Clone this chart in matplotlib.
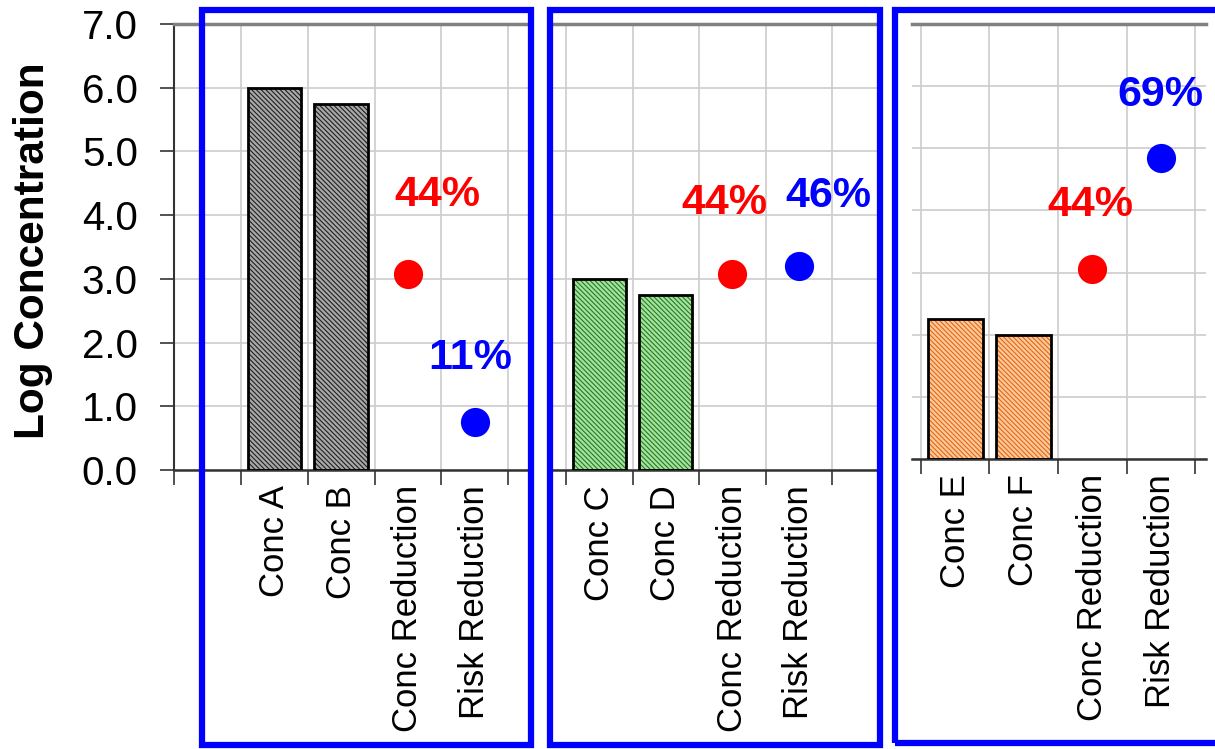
import matplotlib
matplotlib.use("Agg")
import matplotlib.pyplot as plt
from matplotlib.patches import Rectangle
from matplotlib.ticker import FormatStrFormatter

plt.rcParams["font.family"] = ["Liberation Sans", "DejaVu Sans"]
plt.rcParams["hatch.linewidth"] = 0.8

# data, one list per panel (bars first, then the two reduction points)
panel1_labels = ["", "Conc A", "Conc B", "Conc Reduction", "Risk Reduction"]
panel1_bars = [6.0, 5.75]
panel1_conc_red = 3.08
panel1_risk_red = 0.75
panel1_pcts = ["44%", "11%"]

panel2_labels = ["Conc C", "Conc D", "Conc Reduction", "Risk Reduction"]
panel2_bars = [3.0, 2.75]
panel2_conc_red = 3.08
panel2_risk_red = 3.2
panel2_pcts = ["44%", "46%"]

panel3_labels = ["Conc E", "Conc F", "Conc Reduction", "Risk Reduction"]
panel3_bars = [2.25, 2.0]
panel3_conc_red = 3.06
panel3_risk_red = 4.85
panel3_pcts = ["44%", "69%"]

y_ticks = [0, 1, 2, 3, 4, 5, 6, 7]

W, H = 1215, 749
fig = plt.figure(figsize=(W / 100, H / 100), dpi=100)


def px_axes(left, right, top, bottom):
  return fig.add_axes([left / W, 1 - bottom / H, (right - left) / W, (bottom - top) / H])


def draw_panel(ax, labels, bars, conc_red, risk_red, pcts, first, xlim, face, hatch_col,
               pct_pos, show_left):
  n = len(labels)
  xs = list(range(n))
  bar_x = xs[first:first + len(bars)]
  ax.bar(bar_x, bars, width=0.8, color=face, edgecolor=hatch_col, linewidth=0,
         hatch="\\\\\\\\\\\\\\", zorder=2)
  ax.bar(bar_x, bars, width=0.8, fill=False, edgecolor="black", linewidth=2.0, zorder=3)
  ax.plot([xs[first + 2]], [conc_red], "o", color="#ff0000", markersize=21, zorder=4,
          markeredgewidth=0)
  ax.plot([xs[first + 3]], [risk_red], "o", color="#0000ff", markersize=21, zorder=4,
          markeredgewidth=0)
  ax.text(*pct_pos[0], pcts[0], color="#ff0000", fontsize=31, fontweight="bold",
          ha="center", va="center")
  ax.text(*pct_pos[1], pcts[1], color="#0000ff", fontsize=31, fontweight="bold",
          ha="center", va="center")

  ax.set_xlim(*xlim)
  ax.set_ylim(0, 7)
  ax.set_xticks(xs)
  ax.set_xticklabels(labels, rotation=90, fontsize=25, va="top")
  ax.tick_params(axis="x", which="major", length=0, pad=11)
  ax.set_xticks([x - 0.5 for x in xs] + [xs[-1] + 0.5], minor=True)
  ax.tick_params(axis="x", which="minor", length=11, width=1.2, color="#333333",
                 direction="out")
  ax.set_yticks(y_ticks)
  ax.grid(True, which="major", axis="y", color="#cccccc", linewidth=1.2)
  ax.grid(True, which="minor", axis="x", color="#cccccc", linewidth=1.2)
  ax.set_axisbelow(True)

  ax.spines["top"].set_color("#808080")
  ax.spines["top"].set_linewidth(2.5)
  ax.spines["bottom"].set_color("#333333")
  ax.spines["bottom"].set_linewidth(1.8)
  ax.spines["right"].set_visible(False)
  if show_left:
    ax.spines["left"].set_color("#333333")
    ax.spines["left"].set_linewidth(1.5)
    ax.yaxis.set_major_formatter(FormatStrFormatter("%.1f"))
    ax.tick_params(axis="y", length=10, width=1.2, color="#333333", labelsize=29, pad=16)
  else:
    ax.spines["left"].set_visible(False)
    ax.tick_params(axis="y", length=0, labelleft=False)


ax1 = px_axes(174, 531, 24, 470)
draw_panel(ax1, panel1_labels, panel1_bars, panel1_conc_red, panel1_risk_red, panel1_pcts,
           1, (-0.5, 4.84), "#a8a8a8", "#202020", [(3.44, 4.32), (3.93, 1.76)], True)

ax2 = px_axes(550, 880, 24, 470)
draw_panel(ax2, panel2_labels, panel2_bars, panel2_conc_red, panel2_risk_red, panel2_pcts,
           0, (-0.74, 4.22), "#a8e0a0", "#1f7f1f", [(1.88, 4.19), (3.45, 4.30)], False)

ax3 = px_axes(912, 1206, 24, 459)
draw_panel(ax3, panel3_labels, panel3_bars, panel3_conc_red, panel3_risk_red, panel3_pcts,
           0, (-0.63, 3.66), "#ffc898", "#e06818", [(1.97, 4.09), (2.99, 5.86)], False)

fig.text(33 / W, 1 - 251 / H, "Log Concentration", rotation=90, fontsize=30.5,
         fontweight="bold", ha="center", va="center")

# blue frames around the three groups
for left, right, bottom in [(202, 531, 745), (550, 880, 745), (895, 1230, 743)]:
  fig.add_artist(Rectangle((left / W, 1 - bottom / H), (right - left) / W, (bottom - 10) / H,
                           transform=fig.transFigure, fill=False, edgecolor="#0000ff",
                           linewidth=4.5, zorder=10))

fig.savefig("out.png", dpi=100)
